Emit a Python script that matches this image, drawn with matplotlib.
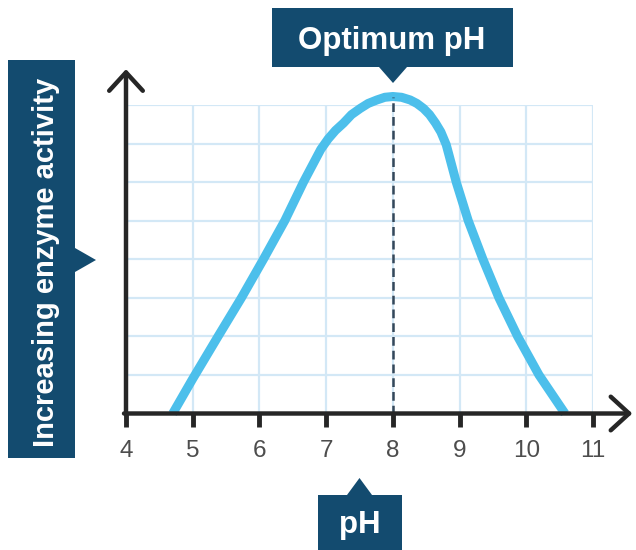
import matplotlib
matplotlib.use("Agg")
import matplotlib.pyplot as plt
from matplotlib.patches import Polygon

# ---- data ----
ph_values = [4.7, 5.0, 5.38, 5.73, 6.06, 6.38, 6.66, 6.92, 7.03, 7.14, 7.26, 7.38, 7.51, 7.63,
             7.76, 7.88, 8.0, 8.13, 8.26, 8.36, 8.46, 8.55, 8.64, 8.72, 8.8, 8.95, 9.13,
             9.35, 9.59, 9.87, 10.19, 10.58]
activity = [0.0, 0.9, 2.0, 3.0, 4.0, 5.0, 6.0, 6.85, 7.12, 7.34, 7.53, 7.75, 7.91, 8.04,
            8.13, 8.2, 8.22, 8.2, 8.13, 8.04, 7.91, 7.75, 7.53, 7.3, 6.97, 6.0, 5.0,
            4.0, 3.0, 2.0, 1.0, 0.0]
x_ticks = [4, 5, 6, 7, 8, 9, 10, 11]
x_tick_labels = ["4", "5", "6", "7", "8", "9", "10", "11"]
y_grid = [0, 1, 2, 3, 4, 5, 6, 7, 8]
optimum_ph = 8.0
optimum_activity = 8.22
title_text = "Optimum pH"
ylabel_text = "Increasing enzyme activity"
xlabel_text = "pH"

W, H = 636, 550
BOX = "#134b6f"
CURVE = "#4cbfeb"
GRID = "#d3e8f6"
AXIS = "#262626"

fig = plt.figure(figsize=(W / 100, H / 100), dpi=100)
fig.patch.set_facecolor("white")

def fx(px):
    return px / W

def fy(py):
    return 1 - py / H

ax = fig.add_axes([fx(126), fy(413.5), (593 - 126) / W, (413.5 - 105) / H])
ax.set_xlim(4, 11)
ax.set_ylim(0, 8)
for s in ax.spines.values():
    s.set_visible(False)

ax.set_xticks(x_ticks, x_tick_labels)
ax.set_yticks(y_grid)
ax.tick_params(axis="y", length=0, labelleft=False)
ax.tick_params(axis="x", direction="out", length=9, width=3.5, color=AXIS,
               pad=10, labelsize=17.5, labelcolor="#4d4d4d")
for lab in ax.get_xticklabels():
    lab.set_fontfamily("Liberation Sans")
ax.grid(True, color=GRID, lw=1.6, zorder=0)
ax.set_axisbelow(True)

# curve
ax.plot(ph_values, activity, color=CURVE, lw=6.5, solid_joinstyle="round",
        solid_capstyle="butt", clip_on=False, zorder=3)

# optimum dashed line
ax.plot([optimum_ph, optimum_ph], [0, optimum_activity], color="#34475a",
        lw=1.8, ls=(0, (3.5, 2)), zorder=4, clip_on=False)

# axes arrows
arrow_style = "->,head_length=0.6,head_width=0.55"
ax.annotate("", xy=(4, 8.93), xytext=(4, -0.03),
            arrowprops=dict(arrowstyle=arrow_style, lw=3.2, color=AXIS,
                            mutation_scale=22, shrinkA=0, shrinkB=0),
            annotation_clip=False, zorder=5)
ax.annotate("", xy=(11.59, 0), xytext=(3.97, 0),
            arrowprops=dict(arrowstyle=arrow_style, lw=3.2, color=AXIS,
                            mutation_scale=22, shrinkA=0, shrinkB=0),
            annotation_clip=False, zorder=5)

# ---- label boxes (figure pixel layout) ----
def poly(points):
    fig.patches.append(Polygon([(fx(a), fy(b)) for a, b in points], closed=True,
                               transform=fig.transFigure, facecolor=BOX,
                               edgecolor="none", zorder=1))

# Optimum pH box with downward pointer
poly([(272, 8), (513, 8), (513, 67), (407, 67), (393, 83), (379, 67), (272, 67)])
fig.text(fx(392), fy(49.5), title_text, color="white", fontsize=22.5,
         fontweight="bold", family="Liberation Sans", ha="center", va="baseline")

# y label box with right pointer
poly([(8, 60), (75, 60), (75, 248), (96, 260), (75, 272), (75, 458), (8, 458)])
fig.text(fx(54), fy(262.5), ylabel_text, color="white", fontsize=21,
         fontweight="bold", family="Liberation Sans", ha="center", va="baseline",
         rotation=90, rotation_mode="anchor")

# pH box with upward pointer
poly([(318, 495), (347, 495), (359.5, 478), (372, 495), (402, 495), (402, 560), (318, 560)])
fig.text(fx(360), fy(533), xlabel_text, color="white", fontsize=22.5,
         fontweight="bold", family="Liberation Sans", ha="center", va="baseline")

fig.savefig("out.png", dpi=100, facecolor="white")
